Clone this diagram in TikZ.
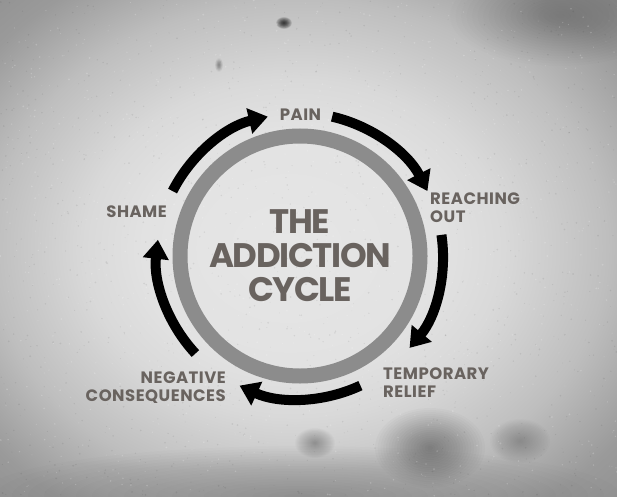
\documentclass[tikz,border=0pt]{standalone}
\usepackage{fontspec}
\setmainfont{Poppins}
\usetikzlibrary{arrows.meta}
\definecolor{txt}{HTML}{69635F}
\definecolor{ringc}{HTML}{8C8C8C}
\definecolor{bga}{HTML}{E6E6E6}
\definecolor{bgb}{HTML}{E2E2E2}
\definecolor{bgc}{HTML}{D9D9D9}
\definecolor{bgm}{HTML}{BEBEBE}
\definecolor{bgn}{HTML}{9A9A9A}
\definecolor{bgd}{HTML}{8A8A8A}
\pgfdeclareradialshading{vign}{\pgfpoint{-2bp}{0bp}}{color(0bp)=(bga); color(12bp)=(bgb); color(17bp)=(bgc); color(25bp)=(bgm); color(32bp)=(bgn); color(40bp)=(bgd)}
\newcommand\softblob[5]{%
  \foreach \k in {1,...,20}{\fill[black,opacity=#5] (#1,#2) ellipse[x radius={#3*\k/20}, y radius={#4*\k/20}];}}
\tikzset{
  cyc/.style={line width=10pt, black, -{Triangle[width=25pt,length=19pt]}},
  lbl/.style={font=\fontsize{16.5}{18}\selectfont\bfseries\addfontfeature{LetterSpace=3}, text=txt, inner sep=0pt},
  ttl/.style={font=\fontsize{34}{34}\selectfont\bfseries\addfontfeature{LetterSpace=-4}, text=txt, inner sep=0pt, align=center}
}
\begin{document}
\begin{tikzpicture}[x=1pt,y=1pt]
\useasboundingbox (0,0) rectangle (617,496);
% background
\shade[shading=vign] (0,0) rectangle (617,496);
\softblob{430}{48}{55}{40}{0.02}
\softblob{315}{53}{20}{15}{0.015}
\softblob{520}{55}{30}{22}{0.01}
\softblob{300}{0}{320}{50}{0.01}
\softblob{560}{480}{110}{50}{0.008}
\softblob{284}{473}{8}{6}{0.06}
\softblob{219}{431}{4}{7}{0.02}
\pgfmathsetseed{11}
\foreach \i in {1,...,1200} {\fill[black, opacity=0.07] (617*rnd,496*rnd) circle[radius=0.4+0.6*rnd];}
\foreach \i in {1,...,900} {\fill[white, opacity=0.2] (617*rnd,496*rnd) circle[radius=0.4+0.6*rnd];}
% ring and title
\coordinate (c) at (300,240);
\draw[ringc, line width=15pt] (c) circle[radius=120];
\node[ttl] (title) at (c) {THE\\ADDICTION\\CYCLE};
% labels
\node[lbl, anchor=base] (pain) at (300.5,375) {PAIN};
\node[lbl, anchor=north west, align=left] (reach) at (430,303) {REACHING\\OUT};
\node[lbl, anchor=north west, align=left] (relief) at (383,128) {TEMPORARY\\RELIEF};
\node[lbl, anchor=north east, align=right] (neg) at (226,124) {NEGATIVE\\CONSEQUENCES};
\node[lbl, anchor=base east] (shame) at (167,279) {SHAME};
% cycle arrows
\draw[cyc] ([shift={(153:143)}]c) arc[start angle=153, end angle=103, radius=143];
\draw[cyc] ([shift={(77:143)}]c) arc[start angle=77, end angle=27, radius=143];
\draw[cyc] ([shift={(8.5:143)}]c) arc[start angle=8.5, end angle=-40, radius=143];
\draw[cyc] ([shift={(-65:143)}]c) arc[start angle=-65, end angle=-115, radius=143];
\draw[cyc] ([shift={(223:143)}]c) arc[start angle=223, end angle=173.5, radius=143];
\end{tikzpicture}
\end{document}
